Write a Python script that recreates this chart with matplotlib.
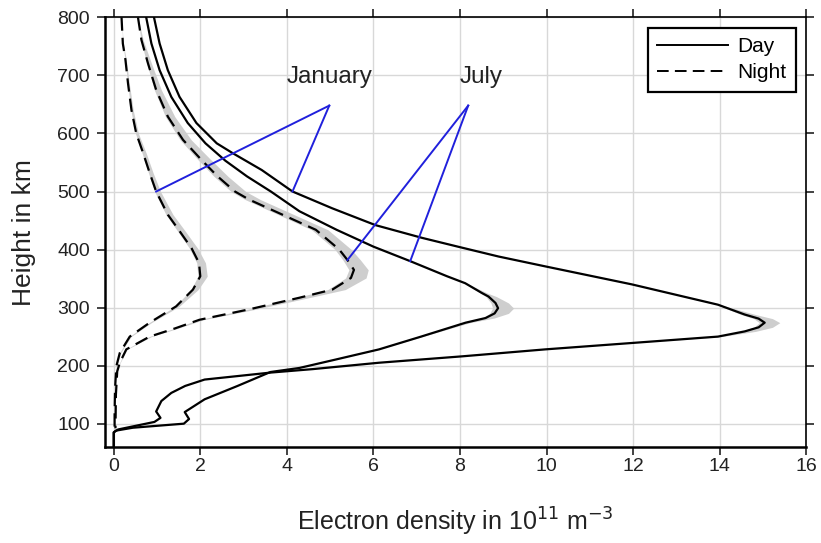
import matplotlib
matplotlib.use("Agg")
import matplotlib.pyplot as plt
import numpy as np

plt.rcParams["font.family"] = ["Liberation Sans", "DejaVu Sans"]

# Electron density profiles (10^11 m^-3) versus height (km)
jan_day_h = [800, 755, 709, 663, 618, 583, 566, 537, 500, 471,
             442, 420, 405, 388, 371, 340, 305,
             288, 281, 274, 266, 259, 250,
             239, 228, 216, 205, 194, 188, 182, 176, 165, 153,
             139, 121, 110, 103, 90, 85, 60]
jan_day_x = [0.93, 1.06, 1.25, 1.52, 1.91, 2.38, 2.75, 3.42, 4.13, 5.05,
             6.05, 7.13, 7.95, 8.89, 9.97, 11.97, 13.96,
             14.58, 14.90, 15.04, 14.90, 14.58, 13.96,
             11.97, 9.97, 8.05, 6.13, 4.60, 3.62, 2.86, 2.10, 1.65, 1.33,
             1.10, 0.98, 1.08, 0.94, 0.10, 0.0, 0.0]
jan_day_band = [0, 0, 0, 0, 0, 0, 0, 0, 0, 0,
                0, 0, 0, 0, 0, 0, 0.05,
                0.25, 0.32, 0.35, 0.32, 0.25, 0.08,
                0, 0, 0, 0, 0, 0, 0, 0, 0, 0,
                0, 0, 0, 0, 0, 0, 0]

jul_day_h = [800, 755, 709, 663, 618, 583, 553, 526, 500, 466, 434, 405, 380, 354,
             342, 325, 319, 308, 299, 290, 282, 274, 250,
             228, 210, 196, 189, 165, 142, 120, 108, 100, 93, 88, 85, 60]
jul_day_x = [0.75, 0.87, 1.06, 1.33, 1.71, 2.12, 2.58, 3.08, 3.63, 4.29, 5.15, 6.00, 6.85, 7.70,
             8.12, 8.51, 8.66, 8.82, 8.88, 8.80, 8.59, 8.13, 7.10,
             6.13, 5.10, 4.29, 3.62, 2.86, 2.10, 1.64, 1.74, 1.62, 0.44, 0.05, 0.0, 0.0]
jul_day_band = [0, 0, 0, 0, 0, 0, 0, 0, 0, 0, 0, 0, 0, 0,
                0.03, 0.12, 0.18, 0.30, 0.36, 0.32, 0.20, 0.10, 0.03,
                0, 0, 0, 0, 0, 0, 0, 0, 0, 0, 0, 0, 0]

jan_night_h = [800, 755, 727, 686, 640, 600, 566, 532, 500, 460, 434, 402, 377, 354,
               331, 302, 274, 250, 222, 199, 160, 120, 92]
jan_night_x = [0.18, 0.21, 0.27, 0.33, 0.41, 0.52, 0.68, 0.83, 0.98, 1.25, 1.50, 1.80, 1.97, 2.00,
               1.83, 1.44, 0.83, 0.37, 0.14, 0.06, 0.03, 0.02, 0.02]
jan_night_band = [0, 0.01, 0.02, 0.03, 0.04, 0.05, 0.07, 0.08, 0.10, 0.12, 0.13, 0.14, 0.15, 0.16,
                  0.12, 0.07, 0.04, 0.03, 0.02, 0.01, 0, 0, 0]

jul_night_h = [800, 761, 721, 675, 629, 589, 555, 526, 500, 486,
               460, 434, 400, 382, 365, 351, 331, 317, 297, 279,
               264, 250, 228, 205, 190, 150, 92]
jul_night_x = [0.56, 0.64, 0.79, 0.98, 1.25, 1.60, 2.02, 2.40, 2.80, 3.13,
               3.90, 4.67, 5.21, 5.40, 5.55, 5.48, 5.05, 4.29, 3.13, 1.98,
               1.41, 0.83, 0.29, 0.14, 0.08, 0.05, 0.04]
jul_night_band = [0, 0.04, 0.08, 0.12, 0.16, 0.19, 0.22, 0.24, 0.25, 0.26,
                  0.27, 0.28, 0.28, 0.30, 0.33, 0.35, 0.30, 0.22, 0.14, 0.09,
                  0.06, 0.04, 0.02, 0.01, 0, 0, 0]

# pointer lines: label apex and the profile points they indicate
jan_apex = (4.98, 648)
jan_targets = [(0.98, 500), (4.13, 500)]
jul_apex = (8.19, 648)
jul_targets = [(5.40, 382), (6.85, 380)]

DASH = (0, (6, 3.2))

fig = plt.figure(figsize=(8.21, 5.43), dpi=100)
ax = fig.add_axes([0.128, 0.177, 0.854, 0.791])

profiles = [
    (jan_night_h, jan_night_x, jan_night_band, DASH),
    (jul_night_h, jul_night_x, jul_night_band, DASH),
    (jul_day_h, jul_day_x, jul_day_band, "-"),
    (jan_day_h, jan_day_x, jan_day_band, "-"),
]
for h, x, band, ls in profiles:
    h = np.array(h, dtype=float)
    x = np.array(x, dtype=float)
    band = np.array(band, dtype=float)
    ax.fill_betweenx(h, x - 0.35 * band, x + band, color="#cecece", linewidth=0, zorder=2)
for h, x, band, ls in profiles:
    ax.plot(x, h, color="black", linewidth=1.6, linestyle=ls, zorder=3)

for apex, targets in [(jan_apex, jan_targets), (jul_apex, jul_targets)]:
    for tx, th in targets:
        ax.plot([apex[0], tx], [apex[1], th], color="#2020dc", linewidth=1.4, zorder=4)

ax.text(4.0, 697, "January", fontsize=17.5, va="center", ha="left", color="#222222")
ax.text(8.0, 697, "July", fontsize=17.5, va="center", ha="left", color="#222222")

ax.plot([], [], color="black", linewidth=1.4, label="Day")
ax.plot([], [], color="black", linewidth=1.4, linestyle=DASH, label="Night")
leg = ax.legend(loc="upper right", fontsize=15, frameon=True, fancybox=False,
                handlelength=3.4, borderaxespad=0.5, handletextpad=0.45,
                borderpad=0.45, labelspacing=0.35)
leg.get_frame().set_edgecolor("black")
leg.get_frame().set_linewidth(1.6)
leg.get_frame().set_alpha(1)

ax.set_xlim(-0.2, 16)
ax.set_ylim(60, 800)
ax.set_xticks(np.arange(0, 17, 2))
ax.set_yticks(np.arange(100, 801, 100))
ax.grid(True, color="#d8d8d8", linewidth=1.0, zorder=0)
ax.set_axisbelow(True)
ax.tick_params(direction="out", length=6, width=1.2, labelsize=14, top=True, right=True,
               colors="#222222")
ax.tick_params(axis="x", pad=2)
ax.tick_params(axis="y", pad=5)
for side in ["left", "bottom"]:
    ax.spines[side].set_linewidth(1.8)
for side in ["top", "right"]:
    ax.spines[side].set_linewidth(1.2)

ax.set_xlabel("Electron density in 10$^{11}$ m$^{-3}$", fontsize=18, labelpad=22, color="#222222")
ax.set_ylabel("Height in km", fontsize=19, labelpad=15, color="#222222")

fig.savefig("out.png", dpi=100)
